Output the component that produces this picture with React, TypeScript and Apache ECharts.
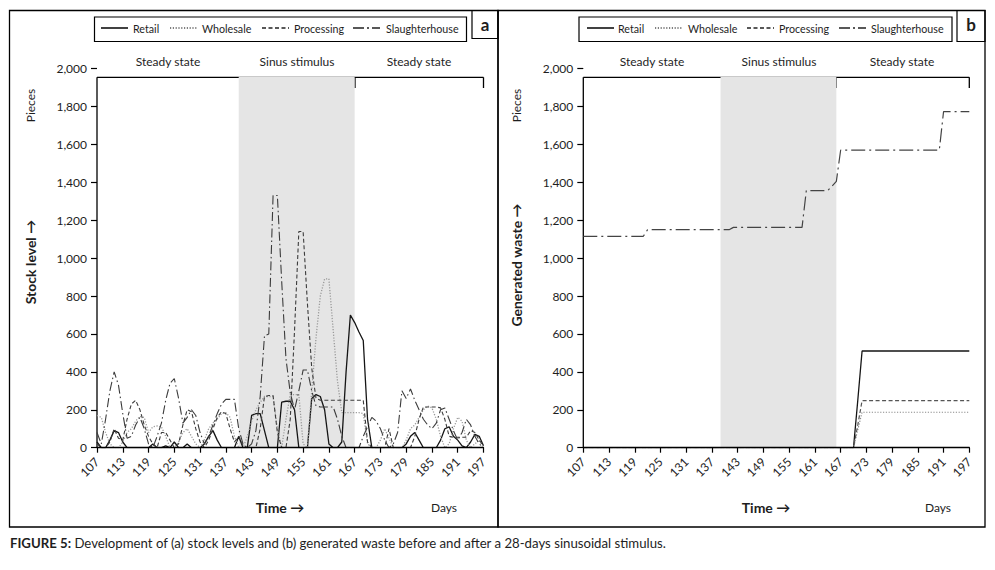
import React, { useEffect, useRef } from "react";
import * as echarts from "echarts";

// Day categories 107..197
const days: string[] = Array.from({ length: 91 }, (_, i) => String(107 + i));

const seriesNames = ["Retail", "Wholesale", "Processing", "Slaughterhouse"];

// Panel (a) stock levels (pieces), days 107..197
const retailA = [
  30, 0, 0, 40, 90, 80, 30, 0, 0, 0,
  0, 0, 0, 20, 0, 0, 10, 0, 30, 0,
  0, 20, 0, 0, 0, 20, 60, 90, 40, 0,
  0, 0, 0, 60, 0, 0, 170, 180, 180, 90,
  0, 0, 0, 240, 245, 245, 200, 0, 0, 0,
  260, 280, 270, 200, 20, 0, 0, 30, 400, 700,
  660, 610, 565, 150, 0, 0, 0, 0, 0, 0,
  0, 0, 20, 60, 80, 40, 0, 0, 0, 0,
  40, 100, 110, 60, 40, 10, 0, 30, 70, 60,
  10,
];
const wholesaleA = [
  170, 160, 80, 20, 0, 0, 30, 80, 100, 140,
  165, 160, 80, 110, 115, 110, 60, 0, 0, 30,
  80, 100, 60, 20, 0, 40, 100, 130, 150, 180,
  185, 160, 60, 0, 0, 60, 140, 200, 240, 270,
  270, 270, 100, 0, 150, 280, 280, 280, 20, 0,
  300, 580, 800, 890, 890, 620, 350, 185, 185, 185,
  185, 185, 180, 20, 0, 0, 40, 100, 50, 0,
  0, 0, 40, 100, 120, 160, 200, 220, 210, 150,
  60, 0, 20, 100, 160, 140, 40, 0, 20, 40,
  0,
];
const processingA = [
  20, 0, 0, 30, 100, 50, 40, 150, 230, 250,
  200, 120, 60, 20, 0, 80, 80, 40, 0, 20,
  120, 200, 190, 100, 30, 0, 40, 100, 160, 190,
  180, 100, 30, 60, 10, 0, 0, 0, 100, 270,
  275, 275, 80, 0, 0, 150, 620, 1140, 1140, 760,
  420, 260, 250, 250, 250, 250, 250, 250, 250, 250,
  250, 250, 250, 30, 0, 0, 0, 0, 100, 0,
  0, 0, 0, 0, 60, 150, 215, 215, 215, 215,
  210, 150, 60, 55, 55, 55, 55, 90, 80, 40,
  10,
];
const slaughterA = [
  80, 20, 150, 300, 400, 330, 180, 50, 60, 120,
  160, 100, 20, 0, 60, 130, 250, 340, 365, 260,
  130, 160, 200, 170, 80, 20, 60, 120, 180, 230,
  255, 255, 255, 100, 20, 0, 20, 90, 270, 590,
  600, 1330, 1330, 880, 470, 290, 200, 300, 410, 410,
  300, 220, 215, 215, 215, 215, 150, 60, 0, 0,
  0, 0, 60, 110, 160, 140, 100, 40, 0, 20,
  80, 300, 260, 310, 250, 200, 150, 120, 100, 130,
  200, 210, 150, 90, 40, 80, 150, 120, 60, 20,
  0,
];

// Panel (b) generated waste (pieces), days 107..197
const retailB = [
  0, 0, 0, 0, 0, 0, 0, 0, 0, 0,
  0, 0, 0, 0, 0, 0, 0, 0, 0, 0,
  0, 0, 0, 0, 0, 0, 0, 0, 0, 0,
  0, 0, 0, 0, 0, 0, 0, 0, 0, 0,
  0, 0, 0, 0, 0, 0, 0, 0, 0, 0,
  0, 0, 0, 0, 0, 0, 0, 0, 0, 0,
  0, 0, 0, 0, 250, 510, 510, 510, 510, 510,
  510, 510, 510, 510, 510, 510, 510, 510, 510, 510,
  510, 510, 510, 510, 510, 510, 510, 510, 510, 510,
  510,
];
const wholesaleB = [
  0, 0, 0, 0, 0, 0, 0, 0, 0, 0,
  0, 0, 0, 0, 0, 0, 0, 0, 0, 0,
  0, 0, 0, 0, 0, 0, 0, 0, 0, 0,
  0, 0, 0, 0, 0, 0, 0, 0, 0, 0,
  0, 0, 0, 0, 0, 0, 0, 0, 0, 0,
  0, 0, 0, 0, 0, 0, 0, 0, 0, 0,
  0, 0, 0, 0, 95, 187, 187, 187, 187, 187,
  187, 187, 187, 187, 187, 187, 187, 187, 187, 187,
  187, 187, 187, 187, 187, 187, 187, 187, 187, 187,
  187,
];
const processingB = [
  0, 0, 0, 0, 0, 0, 0, 0, 0, 0,
  0, 0, 0, 0, 0, 0, 0, 0, 0, 0,
  0, 0, 0, 0, 0, 0, 0, 0, 0, 0,
  0, 0, 0, 0, 0, 0, 0, 0, 0, 0,
  0, 0, 0, 0, 0, 0, 0, 0, 0, 0,
  0, 0, 0, 0, 0, 0, 0, 0, 0, 0,
  0, 0, 0, 0, 120, 248, 248, 248, 248, 248,
  248, 248, 248, 248, 248, 248, 248, 248, 248, 248,
  248, 248, 248, 248, 248, 248, 248, 248, 248, 248,
  248,
];
const slaughterB = [
  1115, 1115, 1115, 1115, 1115, 1115, 1115, 1115, 1115, 1115,
  1115, 1115, 1115, 1115, 1115, 1150, 1150, 1150, 1150, 1150,
  1150, 1150, 1150, 1150, 1150, 1150, 1150, 1150, 1150, 1150,
  1150, 1150, 1150, 1150, 1150, 1162, 1162, 1162, 1162, 1162,
  1162, 1162, 1162, 1162, 1162, 1162, 1162, 1162, 1162, 1162,
  1162, 1162, 1356, 1356, 1356, 1356, 1356, 1356, 1380, 1405,
  1569, 1569, 1569, 1569, 1569, 1569, 1569, 1569, 1569, 1569,
  1569, 1569, 1569, 1569, 1569, 1569, 1569, 1569, 1569, 1569,
  1569, 1569, 1569, 1569, 1773, 1773, 1773, 1773, 1773, 1773,
  1773,
];

const yTicks = { min: 0, max: 2000, interval: 200 };
const phaseLabels = ["Steady state", "Sinus stimulus", "Steady state"];
const stimulusA = ["140", "167"];
const stimulusB = ["139", "166"];

const FONT = "Lato";
const INK = "#1e1e1e";

export default function App() {
  const ref = useRef<HTMLDivElement>(null);

  useEffect(() => {
    if (!ref.current) return;
    const chart = echarts.init(ref.current, null, { renderer: "svg" });

    const styles = [
      { color: "#151515", width: 1.3, type: "solid" as any },
      { color: "#9a9a9a", width: 1.3, type: [1.2, 1.6] as any },
      { color: "#3c3c3c", width: 1.1, type: [4, 2.5] as any },
      { color: "#3c3c3c", width: 1.1, type: [9, 3, 1.5, 3] as any },
    ];
    const stylesB = [
      { color: "#151515", width: 1.3, type: "solid" as any },
      { color: "#8a8a8a", width: 1.2, type: [1.2, 1.6] as any },
      { color: "#555555", width: 1.2, type: [4, 2.5] as any },
      { color: "#444444", width: 1.2, type: [14, 4, 2, 4] as any },
    ];
    const legendDash: any[] = [null, [1.2, 1.6], [4, 2.5], [11, 3, 2, 3]];
    const legendColor = ["#111", "#555", "#222", "#222"];

    const dataA = [retailA, wholesaleA, processingA, slaughterA];
    const dataB = [retailB, wholesaleB, processingB, slaughterB];

    const mkSeries = (idx: number, datas: number[][], st: any[], stim: string[]) =>
      datas.map((d, i) => ({
        name: seriesNames[i],
        type: "line",
        xAxisIndex: idx,
        yAxisIndex: idx,
        data: d,
        symbol: "none",
        showSymbol: false,
        lineStyle: st[i],
        itemStyle: { color: st[i].color },
        z: 2,
        markArea:
          i === 0
            ? {
                silent: true,
                itemStyle: { color: "#e5e5e5" },
                data: [[{ xAxis: stim[0], yAxis: 0 }, { xAxis: stim[1], yAxis: 1956 }]],
              }
            : undefined,
      }));

    const axisX = (i: number) => ({
      type: "category",
      gridIndex: i,
      data: days,
      boundaryGap: false,
      z: 5,
      axisLine: { show: true, lineStyle: { color: "#000", width: 1.3 } },
      axisTick: { show: true, interval: 5, length: 5, lineStyle: { color: "#000", width: 1.2 } },
      axisLabel: {
        interval: 5,
        rotate: 45,
        margin: 12,
        fontSize: 12,
        color: INK,
        fontFamily: FONT,
      },
      splitLine: { show: false },
    });
    const axisY = (i: number) => ({
      type: "value",
      gridIndex: i,
      ...yTicks,
      z: 5,
      axisLine: { show: false },
      axisTick: { show: true, length: 6, lineStyle: { color: "#000", width: 1.2 } },
      axisLabel: {
        fontSize: 12,
        color: INK,
        fontFamily: FONT,
        margin: 10,
        formatter: (v: number) => v.toLocaleString("en-US"),
      },
      splitLine: { show: false },
    });

    const line = (x1: number, y1: number, x2: number, y2: number, w = 1.2, dash: any = null, stroke = "#000") => ({
      type: "line",
      shape: { x1, y1, x2, y2 },
      style: { stroke, lineWidth: w, lineDash: dash },
      silent: true,
    });
    const rect = (x: number, y: number, width: number, height: number, w = 1.2) => ({
      type: "rect",
      shape: { x, y, width, height },
      style: { fill: "none", stroke: "#000", lineWidth: w },
      silent: true,
    });
    const text = (x: number, y: number, t: string, font: string, rot = 0, align = "center") => ({
      type: "text",
      x,
      y,
      rotation: rot,
      style: { text: t, font, fill: INK, align, verticalAlign: "middle" },
      silent: true,
    });

    const legendItems = (lineX: number[], textX: number[]) =>
      seriesNames.flatMap((n, i) => [
        line(lineX[i], 28, lineX[i] + 27, 28, 1.6, legendDash[i], legendColor[i]),
        text(textX[i], 28, n, `10.7px ${FONT}`, 0, "left"),
      ]);

    const panelDeco = (ox: number, x0: number, x1: number, s0: number, s1: number, legendBox: number[], labelBox: number[], letter: string, yTitle: string, yTitleY: number, timeX: number, daysX: number, phaseX: number[]) => [
      line(x0, 447.7, x0, 77.3, 1.3),
      line(x0, 77.3, x1, 77.3, 1.3),
      line(s0, 77.3, s0, 88, 1.3),
      line(s1, 77.3, s1, 88, 1.3),
      line(x1, 77.3, x1, 88, 1.3),
      rect(legendBox[0], legendBox[1], legendBox[2], legendBox[3], 1.2),
      rect(labelBox[0], labelBox[1], labelBox[2], labelBox[3], 1.2),
      text(labelBox[0] + labelBox[2] / 2, 24.5, letter, `bold 17px ${FONT}`),
      text(phaseX[0], 61, phaseLabels[0], `12px ${FONT}`),
      text(phaseX[1], 61, phaseLabels[1], `12px ${FONT}`),
      text(phaseX[2], 61, phaseLabels[2], `12px ${FONT}`),
      text(ox + 20, 105.5, "Pieces", `12px ${FONT}`, Math.PI / 2),
      text(ox + 20, yTitleY, yTitle, `bold 14px ${FONT}`, Math.PI / 2),
      text(timeX, 507, "Time →", `bold 14px ${FONT}`),
      text(daysX, 507, "Days", `12px ${FONT}`),
    ];

    const option: any = {
      animation: false,
      backgroundColor: "#fff",
      textStyle: { fontFamily: FONT },
      grid: [
        { left: 97, right: 995 - 483.5, top: 68.5, bottom: 570 - 447.7 },
        { left: 583.3, right: 995 - 969.3, top: 68.5, bottom: 570 - 447.7 },
      ],
      xAxis: [axisX(0), axisX(1)],
      yAxis: [axisY(0), axisY(1)],
      series: [...mkSeries(0, dataA, styles, stimulusA), ...mkSeries(1, dataB, stylesB, stimulusB)],
      graphic: [
        rect(9.5, 10.5, 488.5, 516.5, 1.3),
        rect(498, 10.5, 487, 516.5, 1.3),
        ...panelDeco(10, 97, 483.5, 240, 355, [94.5, 17, 372, 24.5], [472, 10.5, 26, 28], "a", "Stock level →", 262, 280, 444, [168, 297, 419]),
        ...panelDeco(496, 583.3, 969.3, 722.3, 836, [579, 17, 373, 24.5], [957, 10.5, 28, 31], "b", "Generated waste →", 265, 766, 938, [652, 779, 902]),
        ...legendItems([101, 170, 262, 353], [133, 202, 294, 386]),
        ...legendItems([587, 655, 747, 839], [618, 688, 779, 871]),
        {
          type: "text",
          x: 10,
          y: 543,
          silent: true,
          style: {
            text: "{b|FIGURE 5:} Development of (a) stock levels and (b) generated waste before and after a 28-days sinusoidal stimulus.",
            font: `13.2px ${FONT}`,
            fill: INK,
            verticalAlign: "middle",
            rich: { b: { fontWeight: "bold", fontSize: 13.2, fontFamily: FONT, fill: INK } },
          },
        },
      ],
    };

    chart.setOption(option);
    return () => chart.dispose();
  }, []);

  return (
    <div
      ref={ref}
      style={{ position: "fixed", left: 0, top: 0, width: 995, height: 570, background: "#fff" }}
    />
  );
}
